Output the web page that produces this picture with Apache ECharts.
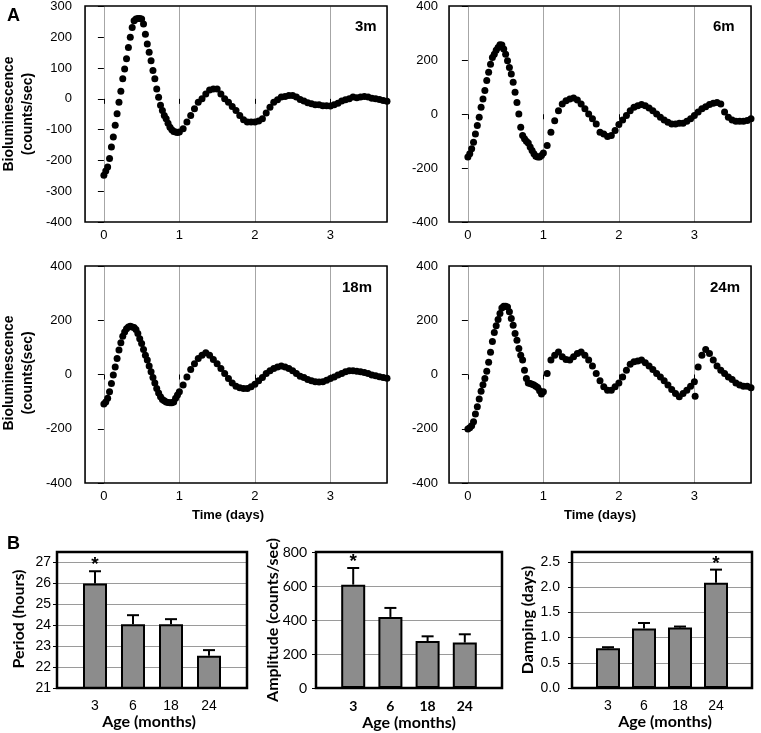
<!DOCTYPE html>
<html><head><meta charset="utf-8">
<script src="https://cdn.jsdelivr.net/npm/echarts@6/dist/echarts.min.js"></script>
<style>html,body{margin:0;padding:0;background:#fff}#c{width:761px;height:733px}</style>
</head><body><div id="c"></div>
<script>
// ---------- Panel A: bioluminescence time series (time in days) ----------
const days = [0,0.025,0.05,0.075,0.1,0.125,0.15,0.175,0.2,0.225,0.25,0.275,0.3,0.325,0.35,0.375,0.4,0.425,0.45,0.475,0.5,0.525,0.55,0.575,0.6,0.625,0.65,0.675,0.7,0.725,0.75,0.775,0.8,0.825,0.85,0.875,0.9,0.925,0.95,0.975,1.0,
1.05,1.1,1.15,1.2,1.25,1.3,1.35,1.4,1.45,1.5,1.55,1.6,1.65,1.7,1.75,1.8,1.85,1.9,1.95,2.0,2.05,2.1,2.15,2.2,2.25,2.3,2.35,2.4,2.45,2.5,2.55,2.6,2.65,2.7,2.75,2.8,2.85,2.9,2.95,3.0,3.05,3.1,3.15,3.2,3.25,3.3,3.35,3.4,3.45,3.5,3.55,3.6,3.65,3.7,3.75];

const lum3m = [-248,-234,-221,-194,-156,-124,-86,-48,-11,25,65,97,130,167,200,232,254,259,261,261,259,243,210,178,151,124,92,65,32,5,-21,-38,-54,-65,-79,-92,-100,-106,-108,-109,-108,
-97,-75,-54,-32,-11,0,16,29,32,32,16,0,-11,-25,-38,-54,-68,-75,-75,-75,-72,-65,-46,-27,-11,-3,6,8,11,11,6,-2,-7,-13,-16,-19,-19,-22,-22,-23,-19,-14,-7,-3,0,6,4,6,8,6,2,0,-2,-5,-8];

const lum6m = [-159,-147,-128,-104,-73,-42,-11,26,57,88,125,156,186,211,223,238,248,258,257,242,223,199,174,149,119,82,44,1,-48,-79,-91,-100,-107,-122,-135,-147,-156,-159,-159,-153,-144,
-116,-67,-24,13,38,50,57,60,53,38,20,1,-17,-36,-67,-73,-83,-79,-60,-38,-21,-5,13,26,32,36,32,23,13,1,-11,-21,-30,-36,-36,-33,-33,-26,-17,-5,8,20,28,36,41,44,38,8,-11,-21,-26,-26,-26,-23,-17];

const lum18m = [-109,-101,-88,-64,-33,-2,28,59,90,117,141,157,169,175,178,175,173,166,151,132,114,92,71,53,31,10,-11,-31,-52,-68,-82,-92,-97,-101,-103,-104,-104,-101,-88,-76,-64,
-39,-9,18,40,59,71,80,71,55,40,22,4,-15,-31,-43,-49,-52,-52,-45,-36,-23,-11,4,14,22,28,31,28,22,14,4,-6,-11,-18,-23,-27,-28,-27,-21,-15,-9,-2,4,10,14,14,12,10,7,4,-2,-5,-8,-11,-14];

const lum24m = [-201,-196,-189,-174,-146,-119,-90,-62,-38,-15,12,45,82,122,155,180,203,225,245,252,252,249,231,206,182,151,126,96,71,53,16,-15,-31,-33,-36,-39,-43,-48,-60,-72,-64,
4,53,71,83,65,55,53,65,77,83,71,53,31,4,-23,-45,-58,-58,-45,-31,-9,16,38,47,50,53,43,31,18,4,-9,-23,-39,-55,-70,-82,-70,-58,-43,-27,28,71,92,77,53,31,16,4,-9,-18,-31,-39,-43,-43,-49];
const t24Outlier = [3.01];
const lum24Outlier = [-80];

const panelNames = ['3m','6m','18m','24m'];

// ---------- Panel B: bar charts ----------
const ages = ['3','6','18','24'];
const period = [26.0, 24.05, 24.05, 22.54];
const periodSem = [0.58, 0.43, 0.24, 0.27];
const periodSig = [true, false, false, false];
const amplitude = [608, 418, 276, 267];
const amplitudeSem = [98, 53, 28, 49];
const amplitudeSig = [true, false, false, false];
const damping = [0.79, 1.18, 1.20, 2.09];
const dampingSem = [0.02, 0.11, 0.02, 0.26];
const dampingSig = [false, false, false, true];

// ---------- layout ----------
const ARIAL = '"Liberation Sans", Arial, sans-serif';
const CALI = 'Lato, "Open Sans", sans-serif';

const sc = [
  {vals: lum3m, left:85, top:6, height:216, min:-400, max:300, interval:100, lm:13},
  {vals: lum6m, left:449, top:6, height:216, min:-400, max:400, interval:200, lm:11},
  {vals: lum18m, left:85, top:266, height:217, min:-400, max:400, interval:200, lm:13},
  {vals: lum24m, left:449, top:266, height:217, min:-400, max:400, interval:200, lm:11}
];
const SCW = 302;

const bars = [
  {vals: period, sem: periodSem, sig: periodSig, left:57, width:190, min:21, max:27.5, interval:1, lm:6, yFont: ARIAL, yWeight:'normal', xFont: ARIAL, xWeight:'normal', fmt: v => String(v)},
  {vals: amplitude, sem: amplitudeSem, sig: amplitudeSig, left:316, width:186, min:0, max:800, interval:200, lm:9, yFont: CALI, yWeight:'normal', xFont: CALI, xWeight:'bold', fmt: v => String(v)},
  {vals: damping, sem: dampingSem, sig: dampingSig, left:572, width:180, min:0, max:2.7, interval:0.5, lm:12, yFont: ARIAL, yWeight:'normal', xFont: ARIAL, xWeight:'normal', fmt: v => v.toFixed(1)}
];
const BTOP = 552, BH = 136;

const grid = [], xAxis = [], yAxis = [], series = [], graphic = [];

sc.forEach((p, i) => {
  grid.push({left:p.left, top:p.top, width:SCW, height:p.height, show:false, containLabel:false});
  xAxis.push({type:'value', gridIndex:i, min:-0.25, max:3.75, minInterval:1, maxInterval:1,
    axisLine:{show:false}, axisTick:{show:true, length:5, lineStyle:{color:'#000', width:1}},
    axisLabel:{showMinLabel:false, showMaxLabel:false, margin:7, color:'#000', fontFamily:ARIAL, fontSize:13},
    splitLine:{show:true, lineStyle:{color:'#a6a6a6', width:1}}});
  yAxis.push({type:'value', gridIndex:i, min:p.min, max:p.max, interval:p.interval,
    axisLine:{show:false}, axisTick:{show:true, length:6, lineStyle:{color:'#000', width:1}},
    axisLabel:{margin:p.lm, color:'#000', fontFamily:ARIAL, fontSize:13},
    splitLine:{show:false}});
  series.push({type:'scatter', xAxisIndex:i, yAxisIndex:i, symbolSize:7, silent:true,
    itemStyle:{color:'#000', opacity:1}, data: days.map((d, k) => [d, p.vals[k]])});
  graphic.push({type:'rect', z:100, silent:true, shape:{x:p.left, y:p.top, width:SCW, height:p.height},
    style:{fill:'none', stroke:'#000', lineWidth:1.5}});
});
series.push({type:'scatter', xAxisIndex:3, yAxisIndex:3, symbolSize:7, silent:true,
  itemStyle:{color:'#000', opacity:1}, data: t24Outlier.map((d, k) => [d, lum24Outlier[k]])});

function errItem(params, api) {
  const x = api.value(0);
  const p0 = api.coord([x, api.value(1)]);
  const p1 = api.coord([x, api.value(2)]);
  const half = 6;
  return {type:'group', children:[
    {type:'line', shape:{x1:p0[0], y1:p0[1], x2:p1[0], y2:p1[1]}, style:{stroke:'#000', lineWidth:2}},
    {type:'line', shape:{x1:p1[0]-half, y1:p1[1], x2:p1[0]+half, y2:p1[1]}, style:{stroke:'#000', lineWidth:2}}
  ]};
}

bars.forEach((b, j) => {
  const gi = 4 + j;
  grid.push({left:b.left, top:BTOP, width:b.width, height:BH, show:false});
  xAxis.push({type:'category', gridIndex:gi, data:[''].concat(ages, ['']), boundaryGap:false,
    axisLine:{show:false}, axisTick:{show:false},
    axisLabel:{interval:0, margin:11, color:'#000', fontFamily:b.xFont, fontWeight:b.xWeight, fontSize:14},
    splitLine:{show:false}});
  yAxis.push({type:'value', gridIndex:gi, min:b.min, max:b.max, interval:b.interval,
    axisLine:{show:false}, axisTick:{show:true, length:4, lineStyle:{color:'#000'}},
    axisLabel:{margin:b.lm, color:'#000', fontFamily:b.yFont, fontWeight:b.yWeight, fontSize:14, formatter:b.fmt,
      showMaxLabel: b.max === 800},
    splitLine:{show:true, lineStyle:{color:'#9a9a9a', width:1}}});
  series.push({type:'bar', xAxisIndex:gi, yAxisIndex:gi, barWidth:24, silent:true,
    itemStyle:{color:'#8c8c8c', borderColor:'#000', borderWidth:2, opacity:1},
    data:['-'].concat(b.vals, ['-'])});
  series.push({type:'custom', xAxisIndex:gi, yAxisIndex:gi, silent:true, z:5, renderItem:errItem,
    data: b.vals.map((v, k) => [k + 1, v, v + b.sem[k]])});
  series.push({type:'scatter', xAxisIndex:gi, yAxisIndex:gi, symbolSize:1, silent:true, z:6,
    itemStyle:{color:'rgba(0,0,0,0)', opacity:1},
    label:{show:true, position:'top', distance:0, offset:[0,4], formatter:'*', color:'#000', opacity:1, fontFamily:ARIAL, fontWeight:'bold', fontSize:19},
    data: b.vals.map((v, k) => b.sig[k] ? [k + 1, v + b.sem[k]] : null).filter(d => d)});
  graphic.push({type:'rect', z:100, silent:true, shape:{x:b.left, y:BTOP, width:b.width, height:BH},
    style:{fill:'none', stroke:'#000', lineWidth:2.5}});
});

function txt(text, x, y, font, opts) {
  opts = opts || {};
  return {type:'text', z:101, silent:true, x:x, y:y, rotation: opts.rot || 0,
    style:{text:text, fill:'#000', font:font, align: opts.align || 'center', verticalAlign:'middle', lineHeight: opts.lh || undefined}};
}
graphic.push(txt('A', 7, 16, 'bold 18px ' + ARIAL, {align:'left'}));
graphic.push(txt('B', 7, 544, 'bold 18px ' + ARIAL, {align:'left'}));
graphic.push(txt('Bioluminescence\n(counts/sec)', 19, 114, 'bold 14px ' + ARIAL, {rot:Math.PI/2, lh:19}));
graphic.push(txt('Bioluminescence\n(counts(sec)', 19, 373, 'bold 14px ' + ARIAL, {rot:Math.PI/2, lh:19}));
graphic.push(txt(panelNames[0], 355, 27, 'bold 15px ' + ARIAL, {align:'left'}));
graphic.push(txt(panelNames[1], 713, 27, 'bold 15px ' + ARIAL, {align:'left'}));
graphic.push(txt(panelNames[2], 342, 288, 'bold 15px ' + ARIAL, {align:'left'}));
graphic.push(txt(panelNames[3], 710, 288, 'bold 15px ' + ARIAL, {align:'left'}));
graphic.push(txt('Time (days)', 228, 515, 'bold 13px ' + ARIAL));
graphic.push(txt('Time (days)', 600, 515, 'bold 13px ' + ARIAL));
graphic.push(txt('Period (hours)', 19, 619, 'bold 16px ' + CALI, {rot:Math.PI/2}));
graphic.push(txt('Amplitude (counts/sec)', 273, 620, 'bold 16px ' + CALI, {rot:Math.PI/2}));
graphic.push(txt('Damping (days)', 528, 620, 'bold 16px ' + CALI, {rot:Math.PI/2}));
graphic.push(txt('Age (months)', 149, 722, 'bold 16px ' + CALI));
graphic.push(txt('Age (months)', 409, 723, 'bold 16px ' + CALI));
graphic.push(txt('Age (months)', 665, 722, 'bold 16px ' + CALI));

const chart = echarts.init(document.getElementById('c'), null, {renderer:'canvas'});
chart.setOption({animation:false, backgroundColor:'#fff', grid, xAxis, yAxis, series, graphic});
</script>
</body></html>
